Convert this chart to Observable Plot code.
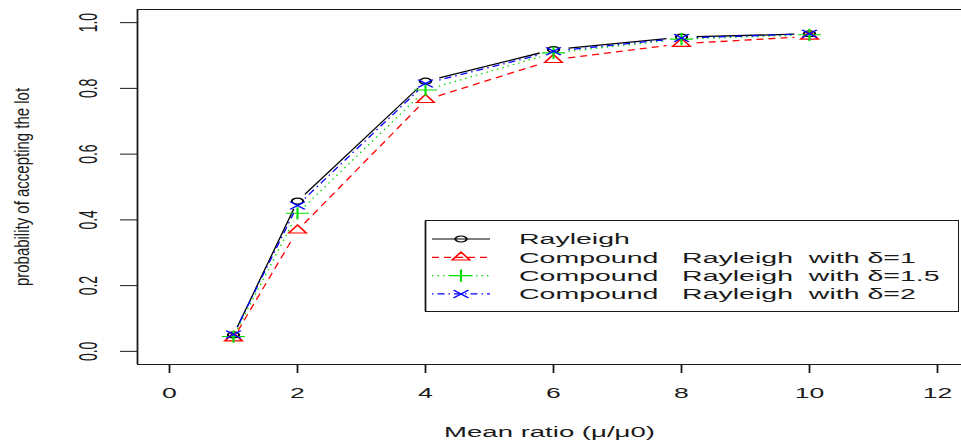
<!DOCTYPE html>
<html><head><meta charset="utf-8">
<script src="https://cdn.jsdelivr.net/npm/d3@7"></script>
<script src="https://cdn.jsdelivr.net/npm/@observablehq/plot@0.6"></script>
<style>body{margin:0;background:#fff}</style>
</head><body>
<script>
// ---- data ----
const meanRatio = [1, 2, 4, 6, 8, 10];
const rayleigh  = [0.050, 0.457, 0.822, 0.918, 0.956, 0.966];
const compound1 = [0.040, 0.368, 0.765, 0.887, 0.936, 0.958];
const compound15= [0.045, 0.420, 0.795, 0.908, 0.950, 0.963];
const compound2 = [0.051, 0.444, 0.815, 0.913, 0.953, 0.966];
const seriesNames = ["Rayleigh", "Compound   Rayleigh  with δ=1", "Compound   Rayleigh  with δ=1.5", "Compound   Rayleigh  with δ=2"];
const xTicks = [0, 2, 4, 6, 8, 10, 12];
const yTicks = [0, 0.2, 0.4, 0.6, 0.8, 1.0];
const xLabel = "Mean ratio (μ/μ0)";
const yLabel = "probability of accepting the lot";

// ---- styles ----
const seriesValues = [rayleigh, compound1, compound15, compound2];
const colors = ["#000000", "#ff0000", "#00dd00", "#0000ff"];
const dashes = [null, "7,5", "1.5,4", "1.5,4,7,4"];
const symbols = ["circle", "triangle2", "plus", "times"];
const symbolRadius = [3, 4.4, 4, 3.6];
const d3Symbols = {circle: d3.symbolCircle, triangle2: d3.symbolTriangle2, plus: d3.symbolPlus, times: d3.symbolTimes};
const K = 1.9; // horizontal stretch of the original raster
const font = "Liberation Sans, Arial, Helvetica, sans-serif";
const ink = "#1a1a1a";
const xDomain = [-0.5, 12.375];
const yDomain = [-0.04, 1.04];

const marks = [
  Plot.ruleY([yDomain[1]], {stroke: ink, strokeWidth: 1}),
  Plot.ruleY([yDomain[0]], {stroke: ink, strokeWidth: 1}),
  Plot.ruleX([xDomain[0]], {stroke: ink, strokeWidth: 1.8}),
  Plot.axisX(xTicks, {tickSize: 9, tickFormat: () => "", label: null, stroke: ink, strokeWidth: 1.8}),
  Plot.axisY(yTicks, {tickSize: 17, tickFormat: () => "", label: null, stroke: ink, strokeWidth: 1}),
  Plot.text(xTicks, {x: d => d, frameAnchor: "bottom", dy: 29, text: d => String(d), lineAnchor: "middle", fontSize: 14, fill: ink}),
  Plot.text(yTicks, {y: d => d, frameAnchor: "left", dx: -49, text: d => d.toFixed(1), rotate: -90, lineAnchor: "middle", textAnchor: "middle", fontSize: 14, fill: ink}),
  Plot.text([xLabel], {frameAnchor: "bottom", dy: 68, text: d => d, lineAnchor: "middle", fontSize: 14.5, fill: ink}),
  Plot.text([yLabel], {frameAnchor: "left", dx: -115, text: d => d, rotate: -90, lineAnchor: "middle", textAnchor: "middle", fontSize: 15, fill: ink})
];

seriesValues.forEach((vals, s) => {
  const pts = meanRatio.map((x, i) => ({x, y: vals[i]}));
  const segs = pts.slice(1).map((p, i) => ({x1: pts[i].x, y1: pts[i].y, x2: p.x, y2: p.y}));
  marks.push(Plot.link(segs, {x1: "x1", y1: "y1", x2: "x2", y2: "y2", stroke: colors[s], strokeWidth: 1.3, strokeDasharray: dashes[s] || undefined}));
  marks.push(Plot.dot(pts, {x: "x", y: "y", symbol: symbols[s], r: symbolRadius[s], stroke: colors[s], strokeWidth: 1.1, fill: "none"}));
});

const svg = Plot.plot({
  width: 961, height: 443,
  marginLeft: 137, marginRight: 0, marginTop: 9, marginBottom: 79,
  x: {domain: xDomain, axis: null},
  y: {domain: yDomain, axis: null},
  style: {fontFamily: font, background: "#fff", overflow: "visible"},
  marks
});
document.body.appendChild(svg);

// ---- emulate the horizontally stretched raster ----
function stretch(el, k) {
  const t = el.getAttribute("transform") || "";
  let a, b;
  const m = t.match(/translate\(\s*([-\d.e]+)[\s,]+([-\d.e]+)\s*\)/);
  if (m) { a = +m[1]; b = +m[2]; }
  else if (el.tagName === "circle") { a = +el.getAttribute("cx"); b = +el.getAttribute("cy"); }
  else { a = parseFloat(el.getAttribute("x") || 0); b = parseFloat(el.getAttribute("y") || 0); }
  el.setAttribute("transform", `translate(${a},${b}) scale(${k},1) translate(${-a},${-b}) ${t}`);
}
svg.querySelectorAll("text").forEach(el => {
  stretch(el, el.textContent === yLabel ? 1.35 : K);
});
svg.querySelectorAll('g[aria-label="dot"] path, g[aria-label="dot"] circle').forEach(el => stretch(el, K));
// gaps around points (R type = "b")
const gap = 8;
svg.querySelectorAll('g[aria-label="link"] path').forEach(el => {
  const n = (el.getAttribute("d").match(/-?\d*\.?\d+(?:e-?\d+)?/g) || []).map(Number);
  if (n.length < 4) return;
  const [x1, y1, x2, y2] = [n[0], n[1], n[n.length - 2], n[n.length - 1]];
  const dx = x2 - x1, dy = y2 - y1;
  const len = Math.hypot(dx / K, dy);
  const f = gap / len;
  if (f >= 0.5) return;
  el.setAttribute("d", `M${x1 + dx * f},${y1 + dy * f}L${x2 - dx * f},${y2 - dy * f}`);
});

// ---- legend ----
const lg = d3.select(svg).append("g").attr("font-family", font).attr("text-anchor", "start");
lg.append("rect").attr("x", 425.5).attr("y", 220.5).attr("width", 533).attr("height", 91)
  .attr("fill", "#fff").attr("stroke", ink).attr("stroke-width", 1);
lg.append("line").attr("x1", 425.5).attr("x2", 425.5).attr("y1", 220.5).attr("y2", 311.5).attr("stroke", ink).attr("stroke-width", 1.8);
seriesNames.forEach((name, i) => {
  const y = 239 + 18.3 * i;
  lg.append("line").attr("x1", 432).attr("x2", 490).attr("y1", y).attr("y2", y)
    .attr("stroke", colors[i]).attr("stroke-width", 1.2).attr("stroke-dasharray", dashes[i]);
  lg.append("path").attr("d", d3.symbol(d3Symbols[symbols[i]], Math.PI * symbolRadius[i] ** 2)())
    .attr("transform", `translate(461,${y}) scale(${K},1)`)
    .attr("fill", "none").attr("stroke", colors[i]).attr("stroke-width", 1.1);
  lg.append("text").attr("x", 0).attr("y", 0).attr("dy", "0.35em")
    .attr("transform", `translate(519,${y}) scale(${K},1)`)
    .attr("text-anchor", "start")
    .attr("font-size", 15).attr("fill", ink).style("white-space", "pre").text(name);
});
</script>
</body></html>
